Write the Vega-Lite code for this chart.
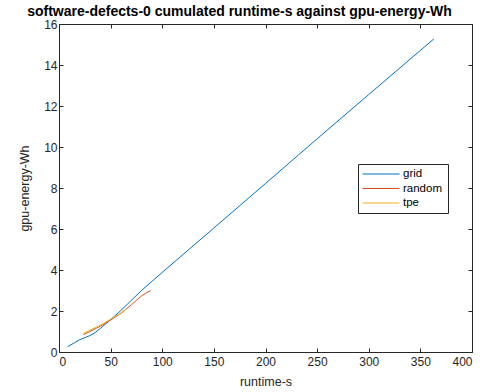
{
  "$schema": "https://vega.github.io/schema/vega-lite/v6.json",
  "width": 413,
  "height": 328,
  "autosize": {"type": "none"},
  "padding": {"left": 59, "top": 24, "right": 8, "bottom": 40},
  "background": "white",
  "title": {"text": "software-defects-0 cumulated runtime-s against gpu-energy-Wh", "font": "Liberation Sans", "fontSize": 14, "fontWeight": "bold", "color": "#000000", "anchor": "middle", "dx": -26, "offset": -1},
  "config": {
    "view": {"stroke": null},
    "axis": {"grid": false, "domainColor": "#262626", "tickColor": "#262626", "labelColor": "#262626", "titleColor": "#262626", "labelFont": "Liberation Sans", "titleFont": "Liberation Sans", "labelFontSize": 12, "titleFontSize": 12.5, "titleFontWeight": "normal", "tickSize": -4, "domainWidth": 1}
  },
  "datasets": {
    "curves": [
      {"runtime": 8.4, "energy": 0.26, "series": "grid"},
      {"runtime": 15, "energy": 0.45, "series": "grid"},
      {"runtime": 20, "energy": 0.6, "series": "grid"},
      {"runtime": 25, "energy": 0.7, "series": "grid"},
      {"runtime": 30, "energy": 0.8, "series": "grid"},
      {"runtime": 35, "energy": 0.95, "series": "grid"},
      {"runtime": 40, "energy": 1.15, "series": "grid"},
      {"runtime": 45, "energy": 1.36, "series": "grid"},
      {"runtime": 50, "energy": 1.58, "series": "grid"},
      {"runtime": 55, "energy": 1.8, "series": "grid"},
      {"runtime": 60, "energy": 2.03, "series": "grid"},
      {"runtime": 65, "energy": 2.27, "series": "grid"},
      {"runtime": 70, "energy": 2.52, "series": "grid"},
      {"runtime": 80, "energy": 3.0, "series": "grid"},
      {"runtime": 90, "energy": 3.45, "series": "grid"},
      {"runtime": 150, "energy": 6.05, "series": "grid"},
      {"runtime": 200, "energy": 8.22, "series": "grid"},
      {"runtime": 250, "energy": 10.4, "series": "grid"},
      {"runtime": 300, "energy": 12.56, "series": "grid"},
      {"runtime": 363, "energy": 15.27, "series": "grid"},
      {"runtime": 23.6, "energy": 0.85, "series": "random"},
      {"runtime": 30, "energy": 1.0, "series": "random"},
      {"runtime": 40, "energy": 1.26, "series": "random"},
      {"runtime": 50, "energy": 1.56, "series": "random"},
      {"runtime": 60, "energy": 1.88, "series": "random"},
      {"runtime": 70, "energy": 2.3, "series": "random"},
      {"runtime": 75, "energy": 2.52, "series": "random"},
      {"runtime": 80, "energy": 2.74, "series": "random"},
      {"runtime": 85, "energy": 2.9, "series": "random"},
      {"runtime": 88.8, "energy": 2.99, "series": "random"},
      {"runtime": 23.6, "energy": 0.91, "series": "tpe"},
      {"runtime": 30, "energy": 1.06, "series": "tpe"},
      {"runtime": 40, "energy": 1.31, "series": "tpe"},
      {"runtime": 50, "energy": 1.6, "series": "tpe"},
      {"runtime": 60, "energy": 1.9, "series": "tpe"},
      {"runtime": 64.9, "energy": 2.1, "series": "tpe"}
    ]
  },
  "data": {"name": "curves"},
  "layer": [
    {
      "mark": {"type": "line", "strokeWidth": 1},
      "encoding": {
        "x": {"field": "runtime", "type": "quantitative", "scale": {"domain": [0, 400], "nice": false}, "axis": {"title": "runtime-s", "values": [0, 50, 100, 150, 200, 250, 300, 350, 400], "labelPadding": 8, "titlePadding": 8}},
        "y": {"field": "energy", "type": "quantitative", "scale": {"domain": [0, 16], "nice": false}, "axis": {"title": "gpu-energy-Wh", "values": [0, 2, 4, 6, 8, 10, 12, 14, 16], "labelPadding": 6, "titlePadding": 12}},
        "color": {"field": "series", "type": "nominal", "scale": {"domain": ["grid", "random", "tpe"], "range": ["#0072BD", "#D95319", "#EDB120"]},
          "legend": {"title": " ", "titleOrient": "right", "titleFontSize": 11, "titlePadding": 2, "orient": "none", "legendX": 299, "legendY": 140, "symbolType": "stroke", "symbolSize": 1369, "symbolStrokeWidth": 1, "clipHeight": 12, "labelFont": "Liberation Sans", "labelFontSize": 11.5, "labelOffset": 3, "labelColor": "#000000", "fillColor": "white", "strokeColor": "#262626", "padding": 4, "rowPadding": 2.5, "offset": 0}},
        "detail": {"field": "series"}
      }
    },
    {
      "mark": {"type": "line", "opacity": 0},
      "encoding": {
        "x": {"field": "runtime", "type": "quantitative", "scale": {"domain": [0, 400], "nice": false}, "axis": {"orient": "top", "title": null, "labels": false, "values": [0, 50, 100, 150, 200, 250, 300, 350, 400]}},
        "y": {"field": "energy", "type": "quantitative", "scale": {"domain": [0, 16], "nice": false}, "axis": {"orient": "right", "title": null, "labels": false, "values": [0, 2, 4, 6, 8, 10, 12, 14, 16]}}
      }
    }
  ],
  "resolve": {"axis": {"x": "independent", "y": "independent"}}
}
